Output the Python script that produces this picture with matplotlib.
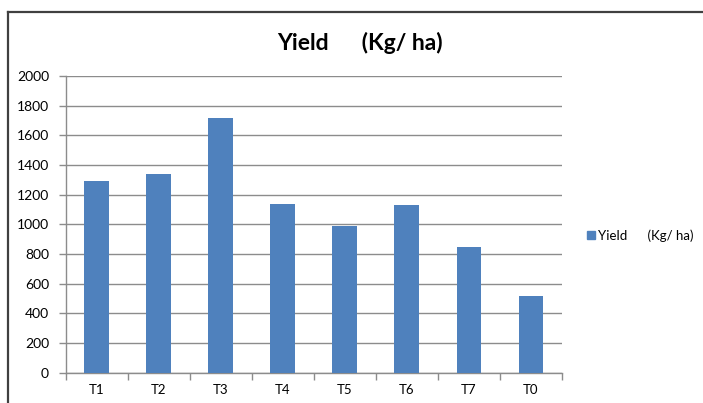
import matplotlib.pyplot as plt
import numpy as np
from matplotlib.lines import Line2D

plt.rcParams['font.family'] = ['Lato', 'DejaVu Sans']

treatments = ['T1', 'T2', 'T3', 'T4', 'T5', 'T6', 'T7', 'T0']
yield_kg_ha = [1290, 1340, 1720, 1140, 990, 1130, 850, 515]
series_name = 'Yield      (Kg/ ha)'

bar_color = '#4F81BD'
grid_color = '#8C8C8C'

fig = plt.figure(figsize=(7.03, 4.03), dpi=100)
ax = fig.add_axes([0.0935, 0.0752, 0.7059, 0.7362])

x = np.arange(len(treatments))
ax.bar(x, yield_kg_ha, width=0.4, color=bar_color, label=series_name, zorder=3)

ax.set_xlim(-0.5, len(treatments) - 0.5)
ax.set_ylim(0, 2000)
ax.set_yticks(np.arange(0, 2001, 200))
ax.yaxis.grid(True, color=grid_color, linewidth=1.0, zorder=0)

# category labels centred, tick marks on the boundaries
ax.set_xticks(x)
ax.set_xticklabels(treatments)
ax.set_xticks(np.arange(-0.5, len(treatments)), minor=True)
ax.tick_params(axis='x', which='major', length=0, pad=8, labelsize=9.5, colors='#000000')
ax.tick_params(axis='x', which='minor', length=5, width=1, color=grid_color, direction='out')
ax.tick_params(axis='y', length=5, width=1, color=grid_color, pad=7, labelsize=10)

for side in ['top', 'right']:
    ax.spines[side].set_visible(False)
for side in ['left', 'bottom']:
    ax.spines[side].set_color(grid_color)
    ax.spines[side].set_linewidth(1)

fig.text(0.512, 0.893, series_name, ha='center', va='center',
         fontsize=16.5, fontweight='bold')

handle = Line2D([], [], marker='s', linestyle='none', markersize=6,
                markerfacecolor=bar_color, markeredgecolor=bar_color)
fig.legend([handle], [series_name], loc='center left',
           bbox_to_anchor=(0.822, 0.415), frameon=False, fontsize=9.5,
           handletextpad=0.0, handlelength=1.0, borderpad=0)

# chart frame, cropped on the right and bottom
fig.add_artist(Line2D([0.0107, 0.0107], [0.0, 0.970], color='#404040', linewidth=1.6,
                      transform=fig.transFigure))
fig.add_artist(Line2D([0.0107, 1.0], [0.970, 0.970], color='#404040', linewidth=1.6,
                      transform=fig.transFigure))

fig.savefig('out.png', dpi=100, facecolor='white')
